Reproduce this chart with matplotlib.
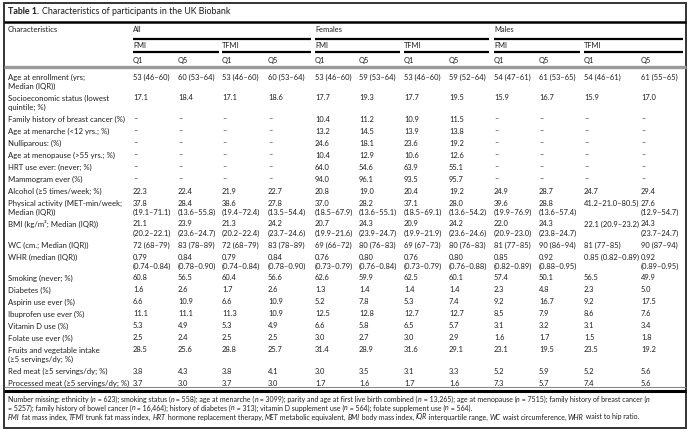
import matplotlib.pyplot as plt
from matplotlib.patches import Rectangle

plt.rcParams['font.family'] = ['Lato', 'DejaVu Sans']

# --- table content ---
characteristics = [
    'Age at enrollment (yrs;\nMedian (IQR))',
    'Socioeconomic status (lowest\nquintile; %)',
    'Family history of breast cancer (%)',
    'Age at menarche (<12 yrs.; %)',
    'Nulliparous: (%)',
    'Age at menopause (>55 yrs.; %)',
    'HRT use ever: (never; %)',
    'Mammogram ever (%)',
    'Alcohol (≥5 times/week; %)',
    'Physical activity (MET-min/week;\nMedian (IQR))',
    'BMI (kg/m²; Median (IQR))',
    'WC (cm.; Median (IQR))',
    'WHR (median (IQR))',
    'Smoking (never; %)',
    'Diabetes (%)',
    'Aspirin use ever (%)',
    'Ibuprofen use ever (%)',
    'Vitamin D use (%)',
    'Folate use ever (%)',
    'Fruits and vegetable intake\n(≥5 servings/dy; %)',
    'Red meat (≥5 servings/dy; %)',
    'Processed meat (≥5 servings/dy; %)',
]

D = '–'
all_fmi_q1 = ['53 (46–60)', '17.1', D, D, D, D, D, D, '22.3', '37.8\n(19.1–71.1)', '21.1\n(20.2–22.1)',
              '72 (68–79)', '0.79\n(0.74–0.84)', '60.8', '1.6', '6.6', '11.1', '5.3', '2.5', '28.5', '3.8', '3.7']
all_fmi_q5 = ['60 (53–64)', '18.4', D, D, D, D, D, D, '22.4', '28.4\n(13.6–55.8)', '23.9\n(23.6–24.7)',
              '83 (78–89)', '0.84\n(0.78–0.90)', '56.5', '2.6', '10.9', '11.1', '4.9', '2.4', '25.6', '4.3', '3.0']
all_tfmi_q1 = ['53 (46–60)', '17.1', D, D, D, D, D, D, '21.9', '38.6\n(19.4–72.4)', '21.3\n(20.2–22.4)',
               '72 (68–79)', '0.79\n(0.74–0.84)', '60.4', '1.7', '6.6', '11.3', '5.3', '2.5', '28.8', '3.8', '3.7']
all_tfmi_q5 = ['60 (53–64)', '18.6', D, D, D, D, D, D, '22.7', '27.8\n(13.5–54.4)', '24.2\n(23.7–24.6)',
               '83 (78–89)', '0.84\n(0.78–0.90)', '56.6', '2.6', '10.9', '10.9', '4.9', '2.5', '25.7', '4.1', '3.0']
fem_fmi_q1 = ['53 (46–60)', '17.7', '10.4', '13.2', '24.6', '10.4', '64.0', '94.0', '20.8', '37.0\n(18.5–67.9)',
              '20.7\n(19.9–21.6)', '69 (66–72)', '0.76\n(0.73–0.79)', '62.6', '1.3', '5.2', '12.5', '6.6', '3.0',
              '31.4', '3.0', '1.7']
fem_fmi_q5 = ['59 (53–64)', '19.3', '11.2', '14.5', '18.1', '12.9', '54.6', '96.1', '19.0', '28.2\n(13.6–55.1)',
              '24.3\n(23.9–24.7)', '80 (76–83)', '0.80\n(0.76–0.84)', '59.9', '1.4', '7.8', '12.8', '5.8', '2.7',
              '28.9', '3.5', '1.6']
fem_tfmi_q1 = ['53 (46–60)', '17.7', '10.9', '13.9', '23.6', '10.6', '63.9', '93.5', '20.4', '37.1\n(18.5–69.1)',
               '20.9\n(19.9–21.9)', '69 (67–73)', '0.76\n(0.73–0.79)', '62.5', '1.4', '5.3', '12.7', '6.5', '3.0',
               '31.6', '3.1', '1.7']
fem_tfmi_q5 = ['59 (52–64)', '19.5', '11.5', '13.8', '19.2', '12.6', '55.1', '95.7', '19.2', '28.0\n(13.6–54.2)',
               '24.2\n(23.6–24.6)', '80 (76–83)', '0.80\n(0.76–0.88)', '60.1', '1.4', '7.4', '12.7', '5.7', '2.9',
               '29.1', '3.3', '1.6']
male_fmi_q1 = ['54 (47–61)', '15.9', D, D, D, D, D, D, '24.9', '39.6\n(19.9–76.9)', '22.0\n(20.9–23.0)',
               '81 (77–85)', '0.85\n(0.82–0.89)', '57.4', '2.3', '9.2', '8.5', '3.1', '1.6', '23.1', '5.2', '7.3']
male_fmi_q5 = ['61 (53–65)', '16.7', D, D, D, D, D, D, '28.7', '28.8\n(13.6–57.4)', '24.3\n(23.8–24.7)',
               '90 (86–94)', '0.92\n(0.88–0.95)', '50.1', '4.8', '16.7', '7.9', '3.2', '1.7', '19.5', '5.9', '5.7']
male_tfmi_q1 = ['54 (46–61)', '15.9', D, D, D, D, D, D, '24.7', '41.2–21.0–80.5)', '22.1 (20.9–23.2)',
                '81 (77–85)', '0.85 (0.82–0.89)', '56.5', '2.3', '9.2', '8.6', '3.1', '1.5', '23.5', '5.2', '7.4']
male_tfmi_q5 = ['61 (55–65)', '17.0', D, D, D, D, D, D, '29.4', '27.6\n(12.9–54.7)', '24.3\n(23.7–24.7)',
                '90 (87–94)', '0.92\n(0.89–0.95)', '49.9', '5.0', '17.5', '7.6', '3.4', '1.8', '19.2', '5.6', '5.6']

columns = [all_fmi_q1, all_fmi_q5, all_tfmi_q1, all_tfmi_q5,
           fem_fmi_q1, fem_fmi_q5, fem_tfmi_q1, fem_tfmi_q5,
           male_fmi_q1, male_fmi_q5, male_tfmi_q1, male_tfmi_q5]
groups = ['All', 'Females', 'Males']
subgroups = ['FMI', 'TFMI'] * 3
quintiles = ['Q1', 'Q5'] * 6

# --- layout (pixel coordinates) ---
col_x = [133, 178, 222, 268, 315, 359, 404, 449, 494, 539, 584, 641]
group_span = [(133, 311), (315, 489), (494, 683)]
sub_span = [(133, 219), (222, 311), (315, 400), (404, 489), (494, 580), (584, 683)]
FS_LABEL = 5.6
FS = 5.45
FS_NOTE = 5.05
INK = '#1e1e1e'

fig = plt.figure(figsize=(6.92, 4.33), dpi=100)
ax = fig.add_axes([0, 0, 1, 1])
ax.set_xlim(0, 692)
ax.set_ylim(433, 0)
ax.axis('off')
ax.add_patch(Rectangle((4, 3), 682, 425, fill=False, ec='#333333', lw=1.4))

ax.text(8, 12, 'Table 1.', fontsize=6.4, fontweight='bold', color=INK, va='center')
ax.text(42, 12, 'Characteristics of participants in the UK Biobank', fontsize=6.4, color=INK, va='center')
ax.plot([4, 686], [21.5, 21.5], color='black', lw=1.8, solid_capstyle='butt')

# header
ax.text(8, 30, 'Characteristics', fontsize=FS_LABEL, color=INK, va='center')
for (x0, x1), g in zip(group_span, groups):
    ax.text(x0, 30, g, fontsize=FS, color=INK, va='center')
    ax.plot([x0, x1], [38.5, 38.5], color='black', lw=1.6, solid_capstyle='butt')
for (x0, x1), s in zip(sub_span, subgroups):
    ax.text(x0, 45, s, fontsize=FS, color=INK, va='center')
    ax.plot([x0, x1], [52, 52], color='black', lw=1.6, solid_capstyle='butt')
for x, q in zip(col_x, quintiles):
    ax.text(x, 60, q, fontsize=FS, color=INK, va='center')
ax.plot([4, 686], [67, 67], color='#9a9a9a', lw=2.4, solid_capstyle='butt')

# body
y = 77
for i, label in enumerate(characteristics):
    lines = label.split('\n')
    for k, ln in enumerate(lines):
        ax.text(8, y + 9 * k, ln, fontsize=FS_LABEL, color=INK, va='center')
    nl = len(lines)
    for x, col in zip(col_x, columns):
        for k, ln in enumerate(col[i].split('\n')):
            ax.text(x, y + 9 * k, ln, fontsize=FS, color=INK, va='center')
            nl = max(nl, k + 1)
    y += 21 if nl > 1 else 12

ax.plot([4, 686], [387, 387], color='#888888', lw=0.8, solid_capstyle='butt')
ax.plot([4, 686], [390.5, 390.5], color='black', lw=2.2, solid_capstyle='butt')

# footnote with italic runs
renderer = fig.canvas.get_renderer()


def run_width(s, style):
    t1 = ax.text(0, 0, '|' + s + '|', fontsize=FS_NOTE, style=style)
    t2 = ax.text(0, 0, '||', fontsize=FS_NOTE, style=style)
    w = t1.get_window_extent(renderer).width - t2.get_window_extent(renderer).width
    t1.remove()
    t2.remove()
    return w


def draw_runs(x, yy, runs):
    for s, style in runs:
        ax.text(x, yy, s, fontsize=FS_NOTE, style=style, color=INK, va='center')
        x += run_width(s, style)


n, it = 'normal', 'italic'
note1 = [('Number missing: ethnicity (', n), ('n', it), (' = 623); smoking status (', n), ('n', it),
         (' = 558); age at menarche (', n), ('n', it), (' = 3099); parity and age at first live birth combined (', n),
         ('n', it), (' = 13,265); age at menopause (', n), ('n', it), (' = 7515); family history of breast cancer (', n),
         ('n', it)]
note2 = [('= 5257); family history of bowel cancer (', n), ('n', it), (' = 16,464); history of diabetes (', n),
         ('n', it), (' = 313); vitamin D supplement use (', n), ('n', it), (' = 564); folate supplement use (', n),
         ('n', it), (' = 564).', n)]
note3 = [('FMI', it), (' fat mass index, ', n), ('TFMI', it), (' trunk fat mass index, ', n), ('HRT', it),
         (' hormone replacement therapy, ', n), ('MET', it), (' metabolic equivalent, ', n), ('BMI', it),
         (' body mass index, ', n), ('IQR', it), (' interquartile range, ', n), ('WC', it),
         (' waist circumference, ', n), ('WHR', it), (' waist to hip ratio.', n)]
draw_runs(8, 399, note1)
draw_runs(8, 408, note2)
draw_runs(8, 417, note3)

fig.savefig('out.png', dpi=100)
